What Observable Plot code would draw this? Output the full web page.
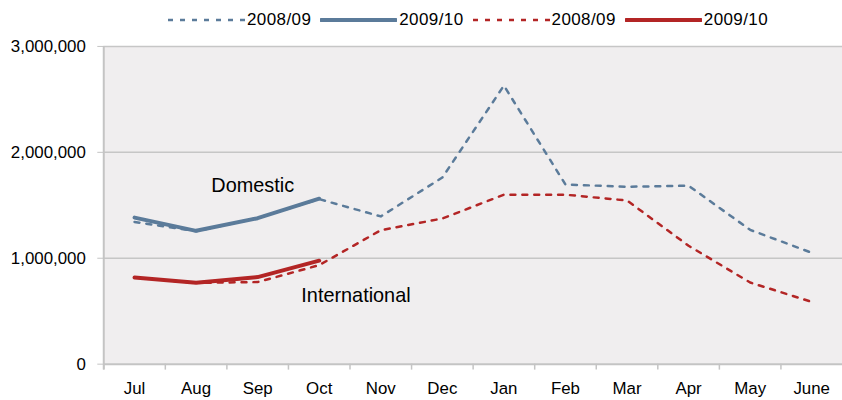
<!DOCTYPE html>
<html>
<head>
<meta charset="utf-8">
<script src="https://cdn.jsdelivr.net/npm/d3@7"></script>
<script src="https://cdn.jsdelivr.net/npm/@observablehq/plot@0.6"></script>
<style>
  html, body { margin: 0; padding: 0; background: #fff; overflow: hidden; }
  body { width: 842px; height: 400px; font-family: "Liberation Sans", Arial, sans-serif; }
  #legend { position: relative; height: 36px; display: flex; align-items: center; padding-left: 168px; padding-top: 4px; box-sizing: border-box; font-size: 17px; color: #000; letter-spacing: 0.4px; }
  #legend .item { display: flex; align-items: center; margin-right: 9px; }
  #legend svg { margin-right: 2px; }
  #chart { width: 842px; overflow: hidden; }
</style>
</head>
<body>
<div id="legend"></div>
<div id="chart"></div>
<script>
// ---- data ----
const months = ["Jul","Aug","Sep","Oct","Nov","Dec","Jan","Feb","Mar","Apr","May","June"];
const domestic0809 = [1343000, 1255000, 1380000, 1558000, 1395000, 1762000, 2630000, 1696000, 1675000, 1685000, 1268000, 1052000];
const domestic0910 = [1384000, 1259000, 1378000, 1562000];
const intl0809 = [820000, 768000, 775000, 935000, 1265000, 1375000, 1600000, 1600000, 1545000, 1118000, 771000, 588000];
const intl0910 = [818000, 768000, 822000, 977000];
const yTicks = [0, 1000000, 2000000, 3000000];
const legendLabels = ["2008/09", "2009/10", "2008/09", "2009/10"];
const labelText = ["Domestic", "International"];
const labelMonth = ["Sep", "Nov"];
const labelValue = [1688000, 648000];

const blue = "#5b7b9a";
const red = "#b32525";
const dash = "5,7";

const toRows = (arr) => arr.map((v, i) => ({month: months[i], value: v}));

// ---- legend ----
const legendStyles = [
  {color: blue, dashed: true},
  {color: blue, dashed: false},
  {color: red, dashed: true},
  {color: red, dashed: false}
];
const legend = document.getElementById("legend");
legendLabels.forEach((lab, i) => {
  const s = legendStyles[i];
  const item = document.createElement("div");
  item.className = "item";
  const sw = s.dashed
    ? `<svg width="77" height="8"><line x1="0" y1="4" x2="77" y2="4" stroke="${s.color}" stroke-width="2.5" stroke-dasharray="${dash}"/></svg>`
    : `<svg width="77" height="8"><line x1="1" y1="4" x2="76" y2="4" stroke="${s.color}" stroke-width="4" stroke-linecap="round"/></svg>`;
  item.innerHTML = sw + `<span>${lab}</span>`;
  legend.appendChild(item);
});

// ---- chart ----
const labels = labelText.map((t, i) => ({text: t, month: labelMonth[i], value: labelValue[i]}));
const half = 31;

const chart = Plot.plot({
  width: 848,
  height: 364,
  marginTop: 10,
  marginBottom: 34,
  marginLeft: 104,
  marginRight: 0,
  style: {background: "#fff", fontFamily: "'Liberation Sans', Arial, sans-serif", fontSize: "17px", color: "#000", overflow: "hidden"},
  x: {type: "point", domain: months, padding: 0.5, label: null},
  y: {domain: [0, 3000000], label: null},
  marks: [
    Plot.frame({fill: "#f0eeef", stroke: null}),
    Plot.gridY([1000000, 2000000, 3000000], {stroke: "#c6c6c6", strokeOpacity: 1, strokeWidth: 1.5}),
    Plot.ruleY([0], {stroke: "#c4c4c4", strokeWidth: 2}),
    Plot.ruleX(months, {x: d => d, dx: -half, insetTop: 320, insetBottom: -6, stroke: "#c4c4c4", strokeWidth: 1.5}),
    Plot.ruleX([months[0]], {x: d => d, dx: -half, insetBottom: -6, stroke: "#c4c4c4", strokeWidth: 2}),
    Plot.axisY({ticks: yTicks, tickFormat: d3.format(","), tickSize: 6, tickPadding: 12, stroke: "#c4c4c4", fill: "#000", fontSize: 17, label: null}),
    Plot.axisX({tickSize: 0, tickPadding: 18, fill: "#000", fontSize: 17, label: null}),
    Plot.line(toRows(domestic0910), {x: "month", y: "value", stroke: blue, strokeWidth: 4, strokeLinejoin: "round", strokeLinecap: "round"}),
    Plot.line(toRows(intl0910), {x: "month", y: "value", stroke: red, strokeWidth: 4, strokeLinejoin: "round", strokeLinecap: "round"}),
    Plot.line(toRows(domestic0809), {x: "month", y: "value", stroke: blue, strokeWidth: 2.5, strokeDasharray: dash}),
    Plot.line(toRows(intl0809), {x: "month", y: "value", stroke: red, strokeWidth: 2.5, strokeDasharray: dash}),
    Plot.text(labels.slice(0, 1), {x: "month", y: "value", text: "text", dx: -5, fontSize: 20, fill: "#000"}),
    Plot.text(labels.slice(1), {x: "month", y: "value", text: "text", dx: -25, fontSize: 20, fill: "#000"})
  ]
});
document.getElementById("chart").appendChild(chart);
</script>
</body>
</html>
